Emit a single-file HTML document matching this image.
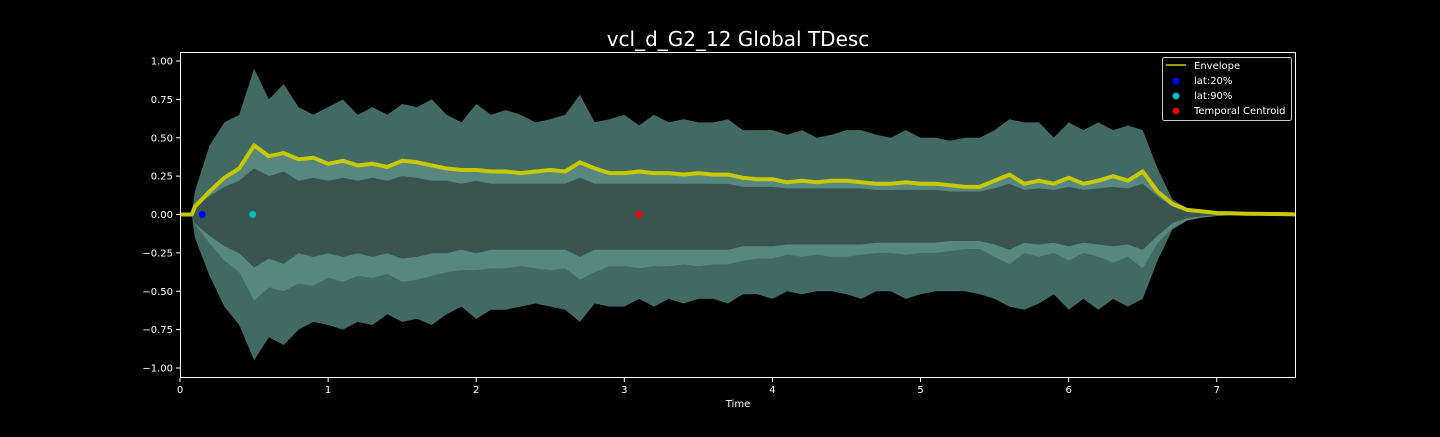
<!DOCTYPE html>
<html><head><meta charset="utf-8"><style>
body{margin:0;background:#000;width:1440px;height:432px;overflow:hidden;font-family:"Liberation Sans","DejaVu Sans",sans-serif}
svg text{font-family:"DejaVu Sans","Liberation Sans",sans-serif}
</style></head><body>
<svg id="chart" width="1440" height="432" xmlns="http://www.w3.org/2000/svg">
<rect width="1440" height="432" fill="#000"/>
<text x="738" y="46" fill="#fff" font-size="20" text-anchor="middle">vcl_d_G2_12 Global TDesc</text>
<g id="plot"></g>
<g id="axes"></g>
<text x="738" y="407" fill="#fff" font-size="10" text-anchor="middle">Time</text>
<g>
<rect x="1162.5" y="57.5" width="129" height="63" rx="2" fill="#000" stroke="#ccc" stroke-width="1"/>
<line x1="1166" y1="65" x2="1186" y2="65" stroke="#999900" stroke-width="2"/>
<text x="1194" y="69" fill="#fff" font-size="10">Envelope</text>
<circle cx="1176" cy="81" r="3.5" fill="#0000ff"/>
<text x="1194" y="84" fill="#fff" font-size="10">lat:20%</text>
<circle cx="1176" cy="96" r="3.5" fill="#00bfbf"/>
<text x="1194" y="99" fill="#fff" font-size="10">lat:90%</text>
<circle cx="1176" cy="111" r="3.5" fill="#ff0000"/>
<text x="1194" y="114" fill="#fff" font-size="10">Temporal Centroid</text>
</g>
</svg>
<script>
const times = [0,0.08,0.1,0.2,0.3,0.4,0.5,0.6,0.7,0.8,0.9,1.0,1.1,1.2,1.3,1.4,1.5,1.6,1.7,1.8,1.9,2.0,2.1,2.2,2.3,2.4,2.5,2.6,2.7,2.8,2.9,3.0,3.1,3.2,3.3,3.4,3.5,3.6,3.7,3.8,3.9,4.0,4.1,4.2,4.3,4.4,4.5,4.6,4.7,4.8,4.9,5.0,5.1,5.2,5.3,5.4,5.5,5.6,5.7,5.8,5.9,6.0,6.1,6.2,6.3,6.4,6.5,6.6,6.7,6.8,6.9,7.0,7.1,7.2,7.3,7.4,7.5];
const upperPeak = [0,0,0.15,0.45,0.6,0.65,0.95,0.75,0.85,0.7,0.65,0.7,0.75,0.65,0.7,0.65,0.72,0.7,0.75,0.65,0.6,0.72,0.65,0.68,0.65,0.6,0.62,0.65,0.78,0.6,0.62,0.65,0.58,0.65,0.6,0.62,0.6,0.6,0.62,0.55,0.55,0.55,0.52,0.55,0.5,0.52,0.55,0.55,0.52,0.5,0.55,0.5,0.5,0.48,0.5,0.5,0.55,0.62,0.6,0.6,0.5,0.6,0.55,0.6,0.55,0.58,0.55,0.3,0.1,0.04,0.02,0.01,0.005,0.004,0.003,0.002,0.001];
const lowerPeak = [0,0,0.15,0.4,0.6,0.72,0.95,0.8,0.85,0.75,0.7,0.72,0.75,0.7,0.72,0.65,0.7,0.68,0.72,0.65,0.6,0.68,0.62,0.62,0.6,0.58,0.6,0.62,0.7,0.58,0.6,0.6,0.55,0.6,0.55,0.58,0.55,0.55,0.58,0.52,0.52,0.55,0.5,0.52,0.5,0.5,0.52,0.55,0.5,0.5,0.55,0.52,0.5,0.5,0.5,0.52,0.55,0.6,0.62,0.58,0.52,0.62,0.55,0.62,0.55,0.6,0.55,0.3,0.1,0.04,0.02,0.01,0.005,0.004,0.003,0.002,0.001];
const innerBand = [0,0,0.05,0.12,0.18,0.22,0.3,0.25,0.28,0.22,0.24,0.22,0.24,0.22,0.24,0.22,0.25,0.24,0.22,0.22,0.2,0.22,0.2,0.2,0.2,0.2,0.2,0.2,0.24,0.2,0.2,0.2,0.2,0.2,0.2,0.2,0.2,0.2,0.2,0.18,0.18,0.18,0.17,0.17,0.17,0.17,0.17,0.17,0.16,0.16,0.16,0.16,0.16,0.15,0.15,0.15,0.17,0.2,0.16,0.17,0.16,0.18,0.16,0.17,0.18,0.17,0.2,0.12,0.05,0.02,0.01,0.005,0.003,0.002,0.001,0.001,0];
const envelope = [0,0,0.05,0.15,0.24,0.3,0.45,0.38,0.4,0.36,0.37,0.33,0.35,0.32,0.33,0.31,0.35,0.34,0.32,0.3,0.29,0.29,0.28,0.28,0.27,0.28,0.29,0.28,0.34,0.3,0.27,0.27,0.28,0.27,0.27,0.26,0.27,0.26,0.26,0.24,0.23,0.23,0.21,0.22,0.21,0.22,0.22,0.21,0.2,0.2,0.21,0.2,0.2,0.19,0.18,0.18,0.22,0.26,0.2,0.22,0.2,0.24,0.2,0.22,0.25,0.22,0.28,0.15,0.07,0.03,0.02,0.01,0.008,0.005,0.004,0.003,0.002];
const markerNames = ["lat:20%","lat:90%","Temporal Centroid"];
const markerTimes = [0.15,0.49,3.1];
const markerColors = ["#0000ff","#00bfbf","#ff0000"];
const xTicks = [0,1,2,3,4,5,6,7];
const yTicks = [1.0,0.75,0.5,0.25,0,-0.25,-0.5,-0.75,-1.0];
const yTickLabels = ["1.00","0.75","0.50","0.25","0.00","−0.25","−0.50","−0.75","−1.00"];

const L=180,R=1296,T=52,B=378,XMAX=7.535;
const xs=t=>L+t/XMAX*(R-L);
const ys=v=>214.5-v*153.5;
const NS='http://www.w3.org/2000/svg';
const plot=document.getElementById('plot'), axes=document.getElementById('axes');
function mk(tag,attrs,parent){const e=document.createElementNS(NS,tag);for(const k in attrs)e.setAttribute(k,attrs[k]);parent.appendChild(e);return e;}
function band(up,low){
  let d='M'+L+','+ys(0);
  times.forEach((t,i)=>{d+=' L'+xs(t).toFixed(1)+','+ys(up[i]).toFixed(1);});
  d+=' L'+R+','+ys(0);
  for(let i=times.length-1;i>=0;i--){d+=' L'+xs(times[i]).toFixed(1)+','+ys(-low[i]).toFixed(1);}
  d+=' L'+L+','+ys(0)+'Z';
  return d;
}
const outer=mk('path',{d:band(upperPeak,lowerPeak),fill:'#426a63'},plot);


const mid=mk('path',{d:band(envelope.map((v,i)=>Math.min(upperPeak[i],v*1.0)),envelope.map((v,i)=>Math.min(lowerPeak[i],v*1.25))),fill:'#57877e'},plot);


const inner=mk('path',{d:band(innerBand,innerBand.map(v=>v*1.15)),fill:'#3a5550'},plot);


let ed='M'+L+','+ys(0);
times.forEach((t,i)=>{ed+=' L'+xs(t).toFixed(1)+','+ys(envelope[i]).toFixed(1);});
ed+=' L'+R+','+ys(0);
const env=mk('path',{d:ed,fill:'none',stroke:'#c8c800','stroke-width':4,'stroke-linejoin':'round'},plot);


markerTimes.forEach((t,i)=>{
  const c=mk('circle',{cx:xs(t),cy:ys(0),r:3.5,fill:markerColors[i]},plot);
  
  
});
const frame=mk('rect',{x:L+0.5,y:T+0.5,width:R-L-1,height:B-T-1,fill:'none',stroke:'#fff','stroke-width':1},axes);


xTicks.forEach(v=>{
  const x=xs(v);
  mk('line',{x1:x,y1:B,x2:x,y2:B+4,stroke:'#fff'},axes);
  const tx=mk('text',{x:x,y:B+15,fill:'#fff','font-size':10,'text-anchor':'middle'},axes);
  tx.textContent=v;
  
  
});
yTicks.forEach((v,i)=>{
  const y=ys(v);
  mk('line',{x1:L-4,y1:y,x2:L,y2:y,stroke:'#fff'},axes);
  const tx=mk('text',{x:L-7,y:y+3.5,fill:'#fff','font-size':10,'text-anchor':'end'},axes);
  tx.textContent=yTickLabels[i];
  
  
});
</script>
</body></html>
